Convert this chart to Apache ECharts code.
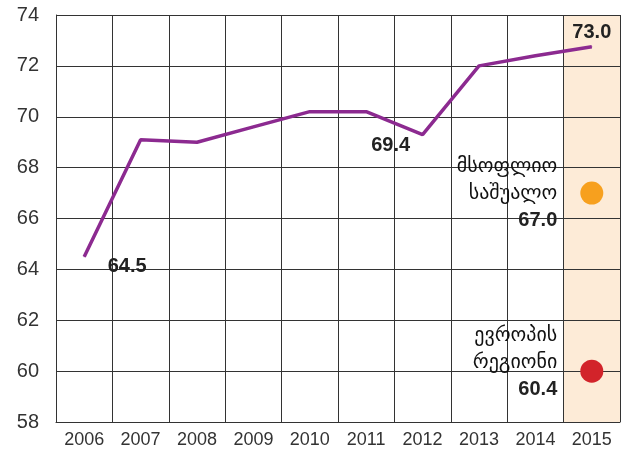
<!DOCTYPE html>
<html>
<head>
<meta charset="utf-8">
<script src="https://cdn.jsdelivr.net/npm/echarts@6/dist/echarts.min.js"></script>
<style>
  html, body { margin: 0; padding: 0; background: #fff; }
  #chart { width: 622px; height: 453px; }
</style>
</head>
<body>
<div id="chart"></div>
<script>
// years on the x axis
var years = ['2006', '2007', '2008', '2009', '2010', '2011', '2012', '2013', '2014', '2015'];
// purple line
var lineValues = [64.5, 69.1, 69.0, 69.6, 70.2, 70.2, 69.3, 72.0, 72.4, 72.75];
// printed labels on the line
var lineLabelYears = ['2006', '2012', '2015'];
var lineLabelTexts = ['64.5', '69.4', '73.0'];
// reference dots in 2015
var dotNames = ['მსოფლიო\nსაშუალო', 'ევროპის\nრეგიონი'];
var dotValues = [67.0, 60.0];
var dotTexts = ['67.0', '60.4'];
var highlightYear = '2015';
var yTicks = [58, 60, 62, 64, 66, 68, 70, 72, 74];

var labelOffsets = { '2006': [43, 10], '2012': [-32, 11], '2015': [0, -14] };

var chart = echarts.init(document.getElementById('chart'));

var lineData = lineValues.map(function (v, i) {
    var k = lineLabelYears.indexOf(years[i]);
    if (k < 0) return v;
    return {
        value: v,
        label: {
            show: true,
            position: 'inside',
            offset: labelOffsets[years[i]],
            formatter: lineLabelTexts[k],
            fontFamily: 'Liberation Sans',
            fontWeight: 'bold',
            fontSize: 20,
            color: '#222'
        }
    };
});

var yMin = yTicks[0], yMax = yTicks[yTicks.length - 1];

var option = {
    animation: false,
    backgroundColor: '#fff',
    grid: { left: 56, right: 2, top: 15, bottom: 31 },
    xAxis: {
        type: 'category',
        data: years,
        boundaryGap: true,
        axisLine: { show: true, lineStyle: { color: '#333', width: 1 } },
        axisTick: { show: false },
        splitLine: { show: true, lineStyle: { color: '#333', width: 1 } },
        axisLabel: {
            color: '#333',
            fontFamily: 'Liberation Sans',
            fontSize: 18,
            margin: 9
        }
    },
    yAxis: {
        type: 'value',
        min: yMin,
        max: yMax,
        interval: 2,
        axisLine: { show: true, lineStyle: { color: '#333', width: 1 } },
        axisTick: { show: false },
        splitLine: { show: true, lineStyle: { color: '#333', width: 1 } },
        axisLabel: {
            color: '#333',
            fontFamily: 'Liberation Sans',
            fontSize: 20,
            margin: 17
        }
    },
    series: [
        {
            // shaded 2015 column
            type: 'bar',
            z: -1,
            barWidth: '100%',
            silent: true,
            data: years.map(function (y) { return y === highlightYear ? yMax : null; }),
            itemStyle: { color: '#fdebd7' }
        },
        {
            type: 'line',
            data: lineData,
            symbol: 'circle',
            symbolSize: 1,
            showSymbol: true,
            itemStyle: { color: '#8c2a90' },
            lineStyle: { color: '#8c2a90', width: 3.5 },
            z: 3
        },
        {
            type: 'scatter',
            symbolSize: 23,
            z: 4,
            data: dotValues.map(function (v, i) {
                return {
                    value: [highlightYear, v],
                    itemStyle: { color: i === 0 ? '#f7a01e' : '#d2232a', opacity: 1 },
                    label: {
                        show: true,
                        position: 'left',
                        distance: 23,
                        offset: i === 0 ? [0, 0] : [0, -9],
                        align: 'right',
                        formatter: function () {
                            return dotNames[i].split('\n').map(function (s) {
                                return '{a|' + s + '}';
                            }).join('\n') + '\n{b|' + dotTexts[i] + '}';
                        },
                        rich: {
                            a: { fontFamily: 'DejaVu Sans', fontSize: 20, color: '#111', lineHeight: 27, align: 'right' },
                            b: { fontFamily: 'Liberation Sans', fontWeight: 'bold', fontSize: 20, color: '#222', lineHeight: 25, align: 'right' }
                        }
                    }
                };
            })
        }
    ]
};

chart.setOption(option);
</script>
</body>
</html>
